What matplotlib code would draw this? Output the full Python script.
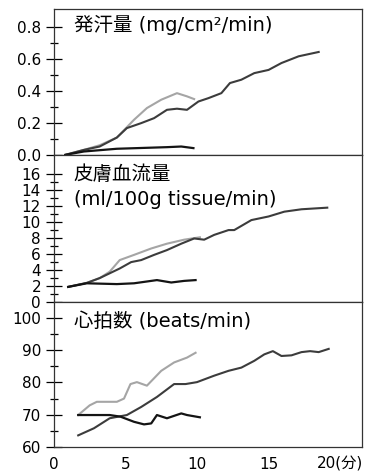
import matplotlib
matplotlib.use('Agg')
import matplotlib.pyplot as plt
from matplotlib.ticker import FixedLocator, FormatStrFormatter

plt.rcParams['font.family'] = ['DejaVu Sans', 'Noto Sans CJK JP']

# sweat rate (mg/cm2/min)
sw_long_x = [0.8, 2.1, 3.2, 4.4, 5.1, 6.1, 7.0, 7.9, 8.6, 9.3, 10.1, 10.8, 11.7, 12.3, 13.1, 14.0, 15.0, 15.9, 17.1, 18.5]
sw_long_y = [0.0, 0.031, 0.052, 0.108, 0.167, 0.198, 0.229, 0.281, 0.288, 0.281, 0.333, 0.354, 0.385, 0.448, 0.469, 0.51, 0.53, 0.573, 0.615, 0.642]
sw_gray_x = [0.8, 2.1, 3.2, 4.4, 5.6, 6.5, 7.5, 8.6, 9.3, 9.8]
sw_gray_y = [0.0, 0.031, 0.06, 0.108, 0.219, 0.292, 0.344, 0.385, 0.365, 0.348]
sw_short_x = [0.8, 2.1, 4.4, 7.9, 8.9, 9.75]
sw_short_y = [0.0, 0.021, 0.038, 0.048, 0.052, 0.042]

# skin blood flow (ml/100g tissue/min)
bf_long_x = [1.0, 2.3, 3.2, 3.9, 4.6, 5.4, 6.1, 7.0, 7.9, 8.9, 9.8, 10.5, 11.2, 12.2, 12.6, 13.8, 15.0, 16.1, 17.3, 19.1]
bf_long_y = [1.9, 2.4, 3.0, 3.6, 4.2, 5.0, 5.25, 5.9, 6.5, 7.3, 7.95, 7.8, 8.4, 9.0, 9.0, 10.25, 10.7, 11.3, 11.6, 11.8]
bf_gray_x = [1.0, 2.3, 3.2, 3.9, 4.6, 5.6, 6.8, 7.9, 9.1, 10.2]
bf_gray_y = [1.9, 2.4, 3.0, 3.8, 5.25, 5.9, 6.7, 7.3, 7.8, 8.1]
bf_short_x = [1.0, 2.3, 4.4, 5.6, 7.2, 8.2, 9.1, 9.9]
bf_short_y = [1.9, 2.35, 2.25, 2.35, 2.75, 2.45, 2.65, 2.75]

# heart rate (beats/min)
hr_long_x = [1.7, 2.8, 3.9, 5.1, 6.1, 7.2, 8.4, 9.2, 10.0, 11.2, 12.2, 13.1, 14.0, 14.7, 15.3, 15.9, 16.6, 17.3, 17.9, 18.5, 19.2]
hr_long_y = [63.6, 65.8, 68.9, 69.9, 72.4, 75.5, 79.5, 79.5, 80.1, 82.1, 83.6, 84.6, 86.7, 88.7, 89.7, 88.2, 88.4, 89.4, 89.7, 89.4, 90.4]
hr_gray_x = [1.7, 2.5, 3.0, 4.4, 4.9, 5.35, 5.8, 6.5, 7.5, 8.4, 9.3, 9.9]
hr_gray_y = [69.9, 72.9, 74.0, 74.0, 75.0, 79.5, 80.1, 79.0, 83.6, 86.2, 87.7, 89.2]
hr_short_x = [1.7, 3.9, 4.65, 5.6, 6.3, 6.8, 7.2, 7.9, 8.9, 9.3, 10.2]
hr_short_y = [69.9, 69.9, 69.4, 67.8, 67.0, 67.3, 69.9, 68.9, 70.4, 69.9, 69.2]

x_ticks = [0, 5, 10, 15, 20]
x_labels = ['0', '5', '10', '15', '20(分)']

sw_ticks = [0.0, 0.2, 0.4, 0.6, 0.8]
sw_minor = [0.1, 0.3, 0.5, 0.7]
bf_ticks = [0, 2, 4, 6, 8, 10, 12, 14, 16]
bf_minor = [1, 3, 5, 7, 9, 11, 13, 15]
hr_ticks = [60, 70, 80, 90, 100]
hr_minor = [65, 75, 85, 95]

panels = [
    (sw_long_x, sw_long_y, sw_gray_x, sw_gray_y, sw_short_x, sw_short_y,
     (0, 0.91), sw_ticks, sw_minor, '%.1f', ['発汗量 (mg/cm²/min)'], [0.89]),
    (bf_long_x, bf_long_y, bf_gray_x, bf_gray_y, bf_short_x, bf_short_y,
     (0, 18.4), bf_ticks, bf_minor, '%d', ['皮膚血流量', '(ml/100g tissue/min)'], [0.865, 0.70]),
    (hr_long_x, hr_long_y, hr_gray_x, hr_gray_y, hr_short_x, hr_short_y,
     (60, 104.9), hr_ticks, hr_minor, '%d', ['心拍数 (beats/min)'], [0.862]),
]

fig = plt.figure(figsize=(3.69, 4.75), dpi=100)
bounds = [(0.674, 0.981), (0.364, 0.674), (0.059, 0.364)]

for i, (lx, ly, gx, gy, sx, sy, ylim, major, minor, fmt, titles, ty) in enumerate(panels):
    b, t = bounds[i]
    ax = fig.add_axes([0.146, b, 0.834, t - b])
    ax.plot(gx, gy, color='#a5a5a5', lw=1.5)
    ax.plot(lx, ly, color='#3c3c3c', lw=1.5)
    ax.plot(sx, sy, color='#141414', lw=1.6)
    ax.set_xlim(0, 21.5)
    ax.set_ylim(*ylim)
    ax.yaxis.set_major_locator(FixedLocator(major))
    ax.yaxis.set_minor_locator(FixedLocator(minor))
    ax.yaxis.set_major_formatter(FormatStrFormatter(fmt))
    ax.tick_params(axis='y', which='major', direction='inout', length=11.5, width=0.9, pad=3.5, labelsize=11)
    ax.tick_params(axis='y', which='minor', direction='inout', length=6, width=0.9)
    ax.set_xticks(x_ticks)
    if i == 2:
        ax.set_xticklabels(x_labels)
        ax.tick_params(axis='x', length=0, pad=7, labelsize=11)
    else:
        ax.tick_params(axis='x', length=0, labelbottom=False)
    for s in ax.spines.values():
        s.set_linewidth(0.9)
        s.set_color('#333333')
    for txt, y in zip(titles, ty):
        ax.text(0.065, y, txt, transform=ax.transAxes, ha='left', va='center', fontsize=14)

fig.savefig('out.png', dpi=100)
